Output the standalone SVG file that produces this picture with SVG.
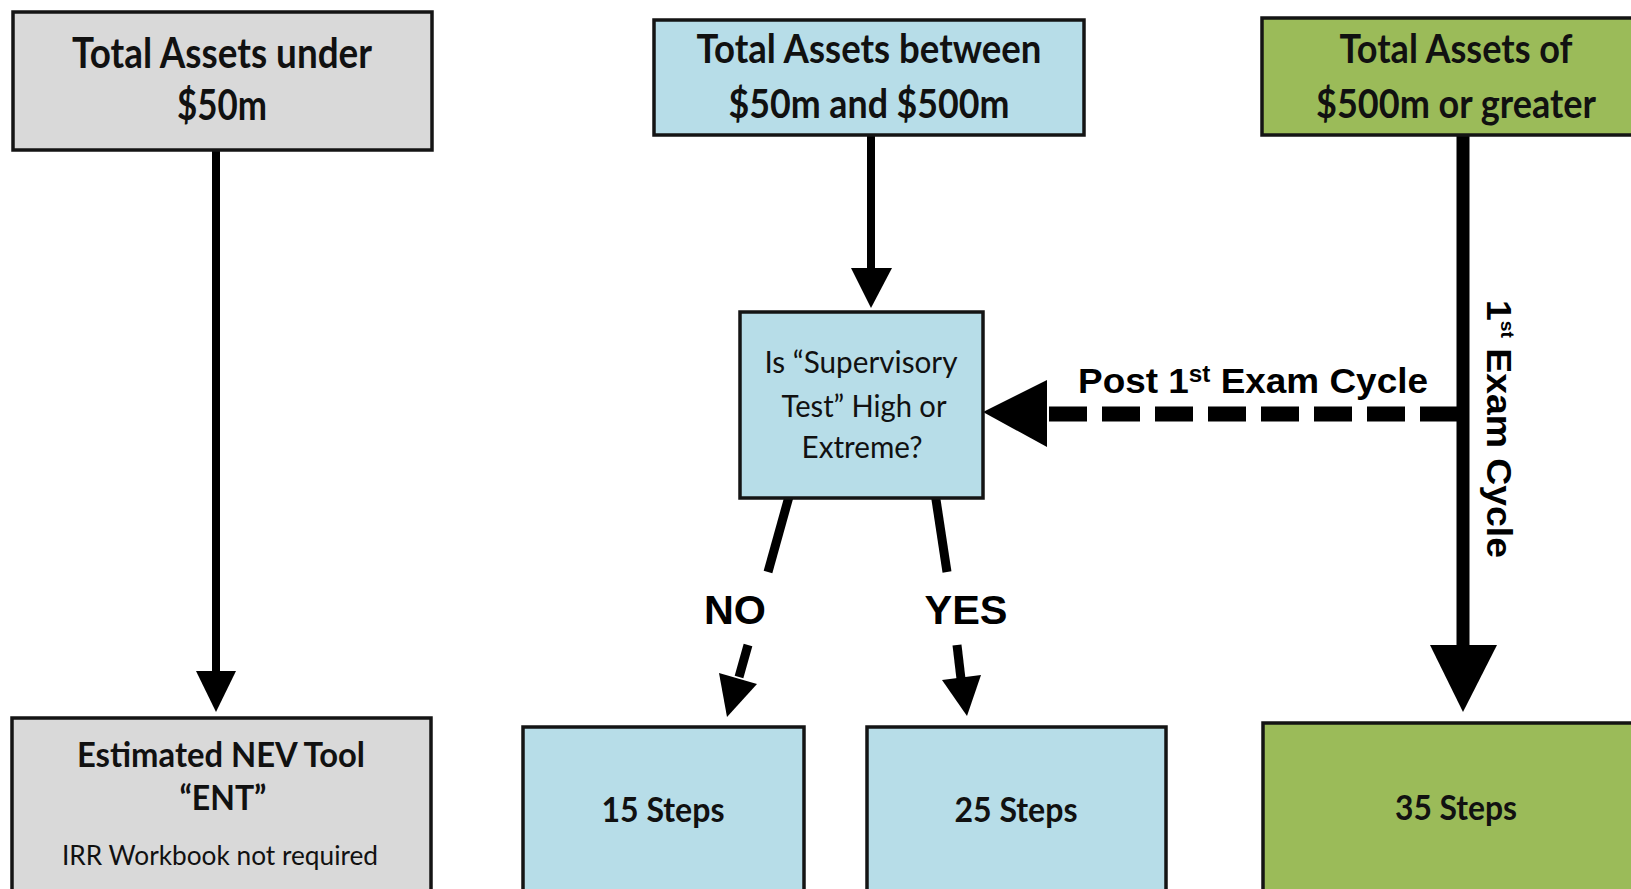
<svg xmlns="http://www.w3.org/2000/svg" width="1631" height="889" viewBox="0 0 1631 889">
<style>
.box{stroke:#141414;stroke-width:3.5}
.gray{fill:#d9d9d9}
.blue{fill:#b7dde8}
.green{fill:#9bbb59}
.t{font-family:Lato,"Open Sans","Liberation Sans",sans-serif;fill:#111;text-anchor:middle}
.b{font-weight:bold}
.a{font-family:"Liberation Sans",Arial,sans-serif;font-weight:bold;fill:#000}
.ln{stroke:#000;fill:none}
.hd{fill:#000}
</style>
<rect width="1631" height="889" fill="#fff"/>
<g id="connectors">
  <line class="ln" x1="216" y1="150" x2="216" y2="673" stroke-width="8"/>
  <polygon class="hd" points="196,671 236,671 216,712"/>
  <line class="ln" x1="871" y1="135" x2="871" y2="270" stroke-width="8"/>
  <polygon class="hd" points="851,268 892,268 871,308"/>
  <line class="ln" x1="1463" y1="135" x2="1463" y2="647" stroke-width="13"/>
  <polygon class="hd" points="1430,645 1497,645 1463,712"/>
  <line class="ln" x1="1049" y1="414" x2="1457" y2="414" stroke-width="15" stroke-dasharray="38 15"/>
  <polygon class="hd" points="983,412 1047,380 1047,447"/>
  <line class="ln" x1="790" y1="493" x2="768" y2="572" stroke-width="9"/>
  <line class="ln" x1="748" y1="645" x2="739" y2="677" stroke-width="9"/>
  <polygon class="hd" points="719,673 757,684 727,717"/>
  <line class="ln" x1="935" y1="493" x2="947" y2="572" stroke-width="9"/>
  <line class="ln" x1="957" y1="645" x2="961" y2="679" stroke-width="9"/>
  <polygon class="hd" points="942,680 981,675 967,716"/>
  <text class="a" x="1078" y="393" font-size="35" textLength="350" lengthAdjust="spacingAndGlyphs">Post 1<tspan font-size="23" dy="-11">st</tspan><tspan dy="11"> Exam Cycle</tspan></text>
  <text class="a" x="735" y="624" font-size="40" text-anchor="middle" textLength="62" lengthAdjust="spacingAndGlyphs">NO</text>
  <text class="a" x="966" y="624" font-size="40" text-anchor="middle" textLength="83" lengthAdjust="spacingAndGlyphs">YES</text>
  <text class="a" font-size="35" transform="translate(1487,300) rotate(90)" textLength="258" lengthAdjust="spacingAndGlyphs">1<tspan font-size="18" dy="-14">st</tspan><tspan dy="14"> Exam Cycle</tspan></text>
</g>
<g id="n_under50">
  <rect class="box gray" x="13" y="12" width="419" height="138"/>
  <text class="t b" x="222" y="68" font-size="42" textLength="300" lengthAdjust="spacingAndGlyphs">Total Assets under</text>
  <text class="t b" x="222" y="120" font-size="42" textLength="90" lengthAdjust="spacingAndGlyphs">$50m</text>
</g>
<g id="n_between">
  <rect class="box blue" x="654" y="20" width="430" height="115"/>
  <text class="t b" x="869" y="63" font-size="41" textLength="345" lengthAdjust="spacingAndGlyphs">Total Assets between</text>
  <text class="t b" x="869" y="118" font-size="41" textLength="281" lengthAdjust="spacingAndGlyphs">$50m and $500m</text>
</g>
<g id="n_over500">
  <rect class="box green" x="1262" y="18" width="400" height="117"/>
  <text class="t b" x="1456" y="63" font-size="41" textLength="233" lengthAdjust="spacingAndGlyphs">Total Assets of</text>
  <text class="t b" x="1456" y="118" font-size="41" textLength="280" lengthAdjust="spacingAndGlyphs">$500m or greater</text>
</g>
<g id="n_test">
  <rect class="box blue" x="740" y="312" width="243" height="186"/>
  <text class="t" x="861" y="373" font-size="31" textLength="193" lengthAdjust="spacingAndGlyphs">Is “Supervisory</text>
  <text class="t" x="864" y="417" font-size="31" textLength="165" lengthAdjust="spacingAndGlyphs">Test” High or</text>
  <text class="t" x="862" y="458" font-size="31" textLength="121" lengthAdjust="spacingAndGlyphs">Extreme?</text>
</g>
<g id="n_ent">
  <rect class="box gray" x="12" y="718" width="419" height="190"/>
  <text class="t b" x="221" y="767" font-size="35" textLength="288" lengthAdjust="spacingAndGlyphs">Estimated NEV Tool</text>
  <text class="t b" x="223" y="810" font-size="35" textLength="87" lengthAdjust="spacingAndGlyphs">“ENT”</text>
  <text class="t" x="220" y="865" font-size="26" textLength="316" lengthAdjust="spacingAndGlyphs">IRR Workbook not required</text>
</g>
<g id="n_15">
  <rect class="box blue" x="523" y="727" width="281" height="190"/>
  <text class="t b" x="663" y="822" font-size="35" textLength="123" lengthAdjust="spacingAndGlyphs">15 Steps</text>
</g>
<g id="n_25">
  <rect class="box blue" x="867" y="727" width="299" height="190"/>
  <text class="t b" x="1016" y="822" font-size="35" textLength="123" lengthAdjust="spacingAndGlyphs">25 Steps</text>
</g>
<g id="n_35">
  <rect class="box green" x="1263" y="723" width="400" height="190"/>
  <text class="t b" x="1456" y="820" font-size="35" textLength="122" lengthAdjust="spacingAndGlyphs">35 Steps</text>
</g>
</svg>
